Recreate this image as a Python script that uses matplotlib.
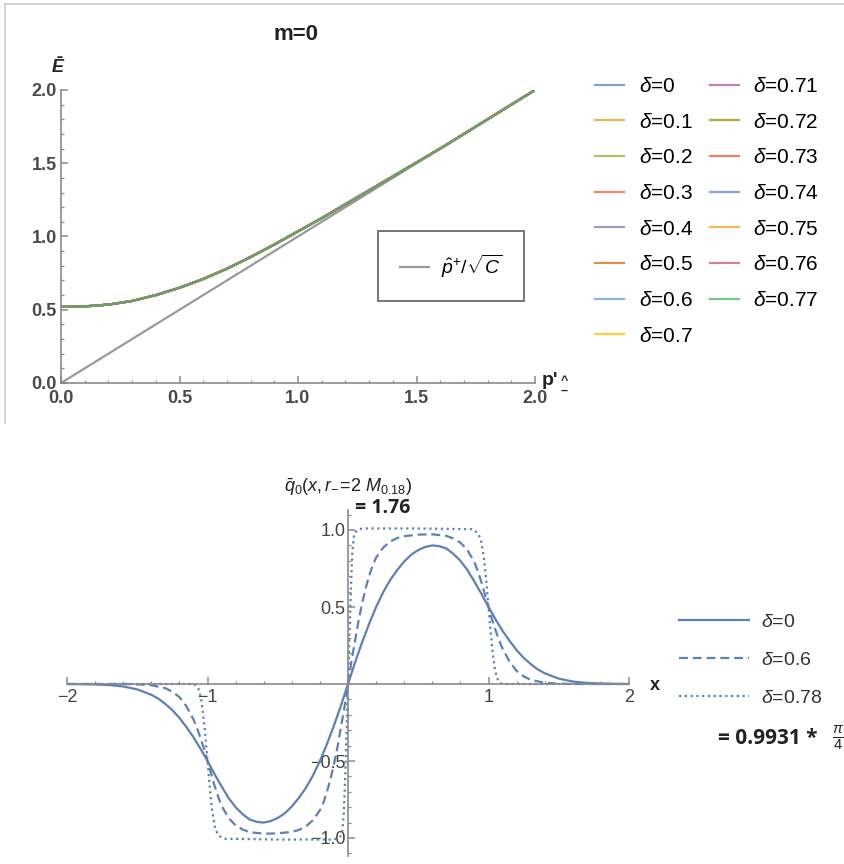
import numpy as np
import matplotlib
matplotlib.use('Agg')
import matplotlib.pyplot as plt
from matplotlib.lines import Line2D
from matplotlib.ticker import MultipleLocator, FixedLocator

plt.rcParams['font.family'] = ['Liberation Sans', 'DejaVu Sans']
plt.rcParams['mathtext.fontset'] = 'custom'
plt.rcParams['mathtext.rm'] = 'Liberation Sans'
plt.rcParams['mathtext.it'] = 'Liberation Sans:italic'
plt.rcParams['mathtext.bf'] = 'Liberation Sans:bold'

# ---- data, top panel (m=0) ----
deltas_top = ['0', '0.1', '0.2', '0.3', '0.4', '0.5', '0.6', '0.7',
              '0.71', '0.72', '0.73', '0.74', '0.75', '0.76', '0.77']
colors_top = ['#5E81B5', '#E19C24', '#8FB032', '#EB6235', '#8778B3', '#C56E1A',
              '#5D9EC7', '#FFBF00', '#A5609D', '#929600', '#E95536', '#6685D9',
              '#F89F13', '#BC5B80', '#47B66D']
p_vals = [0.0, 0.1, 0.2, 0.3, 0.4, 0.5, 0.6, 0.7, 0.8, 0.9, 1.0,
          1.1, 1.2, 1.3, 1.4, 1.5, 1.6, 1.7, 1.8, 1.9, 2.0]
E_vals = [0.52, 0.523, 0.535, 0.56, 0.60, 0.65, 0.71, 0.78, 0.86, 0.945, 1.035,
          1.125, 1.22, 1.315, 1.41, 1.505, 1.60, 1.70, 1.80, 1.90, 2.0]
line_p = [0.0, 2.0]   # p^+/sqrt(C) reference line

# ---- data, bottom panel (positive half, curve is odd in x) ----
x_d0 = [0.0, 0.05, 0.1, 0.15, 0.2, 0.25, 0.3, 0.35, 0.4, 0.45, 0.5, 0.55, 0.6,
        0.65, 0.7, 0.75, 0.8, 0.85, 0.9, 0.95, 1.0, 1.05, 1.1, 1.15, 1.2, 1.25,
        1.3, 1.35, 1.4, 1.5, 1.6, 1.7, 1.8, 1.9, 2.0]
q_d0 = [0.0, 0.14, 0.27, 0.39, 0.50, 0.595, 0.675, 0.74, 0.795, 0.84, 0.87, 0.89, 0.90,
        0.895, 0.88, 0.845, 0.80, 0.74, 0.665, 0.585, 0.50, 0.42, 0.345, 0.28, 0.22, 0.17,
        0.13, 0.095, 0.07, 0.035, 0.016, 0.007, 0.003, 0.001, 0.0]
x_d06 = [0.0, 0.025, 0.05, 0.075, 0.1, 0.125, 0.15, 0.175, 0.2, 0.25, 0.3, 0.35, 0.4,
         0.5, 0.6, 0.7, 0.75, 0.8, 0.85, 0.9, 0.925, 0.95, 0.975, 1.0, 1.025, 1.05,
         1.075, 1.1, 1.15, 1.2, 1.25, 1.3, 1.4, 1.5, 1.6, 2.0]
q_d06 = [0.0, 0.15, 0.28, 0.41, 0.52, 0.62, 0.70, 0.77, 0.82, 0.885, 0.925, 0.948, 0.96,
         0.97, 0.972, 0.962, 0.945, 0.918, 0.87, 0.79, 0.73, 0.66, 0.58, 0.50, 0.42, 0.35,
         0.285, 0.23, 0.145, 0.085, 0.05, 0.027, 0.008, 0.002, 0.0, 0.0]
x_d078 = [0.0, 0.01, 0.02, 0.03, 0.04, 0.05, 0.07, 0.1, 0.5, 0.88, 0.91, 0.93, 0.95,
          0.97, 0.985, 1.0, 1.015, 1.03, 1.045, 1.06, 1.08, 1.1, 2.0]
q_d078 = [0.0, 0.3, 0.6, 0.84, 0.95, 0.985, 1.0, 1.01, 1.01, 1.005, 0.99, 0.97, 0.92,
          0.80, 0.66, 0.5, 0.34, 0.20, 0.10, 0.04, 0.01, 0.0, 0.0]

W, H = 844, 864
fig = plt.figure(figsize=(W / 100, H / 100), dpi=100)


def fx(px):
    return px / W


def fy(py):
    return 1 - py / H


# light frame around the top panel
fig.add_artist(Line2D([fx(5), fx(5)], [fy(4), fy(423)], color='#cccccc', lw=1.2))
fig.add_artist(Line2D([fx(5), fx(844)], [fy(4), fy(4)], color='#cccccc', lw=1.2))

# ================= top panel =================
ax1 = fig.add_axes([fx(61), fy(383), (535 - 61) / W, (383 - 90) / H])
ax1.plot(line_p, line_p, color='#9a9a9a', lw=1.6, zorder=1)
handles = []
for d, c in zip(deltas_top, colors_top):
    h, = ax1.plot(p_vals, E_vals, color=c, lw=1.6, alpha=0.75, label=r'$\delta$=' + d,
                  zorder=2)
    handles.append(h)
ax1.set_xlim(0, 2.0)
ax1.set_ylim(0, 2.0)
for s in ['top', 'right']:
    ax1.spines[s].set_visible(False)
for s in ['left', 'bottom']:
    ax1.spines[s].set_color('#8a8a8a')
    ax1.spines[s].set_linewidth(1.2)
ax1.xaxis.set_major_locator(MultipleLocator(0.5))
ax1.xaxis.set_minor_locator(MultipleLocator(0.1))
ax1.yaxis.set_major_locator(MultipleLocator(0.5))
ax1.yaxis.set_minor_locator(MultipleLocator(0.1))
ax1.tick_params(which='both', direction='in', color='#8a8a8a', labelcolor='#4a4a4a',
                labelsize=13)
ax1.tick_params(which='major', length=5, width=1.1)
ax1.tick_params(which='minor', length=2.5, width=0.9)
ax1.tick_params(axis='y', pad=3)
ax1.tick_params(axis='x', pad=5)
for lab in ax1.get_xticklabels() + ax1.get_yticklabels():
    lab.set_fontweight('bold')

fig.text(fx(296), fy(34), 'm=0', ha='center', va='center', fontsize=16,
         fontweight='bold', color='#222222')
fig.text(fx(58), fy(68), '\u0112', ha='center', va='center', fontsize=13,
         fontweight='bold', fontstyle='italic', color='#222222')
fig.text(fx(542), fy(380), "p'", ha='left', va='center', fontsize=14,
         fontweight='bold', color='#222222')
fig.text(fx(561), fy(375), '^\n\u2013', ha='left', va='top', fontsize=9,
         fontweight='bold', linespacing=0.75, color='#222222')

gray_h = Line2D([], [], color='#9a9a9a', lw=1.6)
inner = ax1.legend([gray_h], [r'$\hat{p}^{+}/\sqrt{C}$'], loc='center',
                   bbox_to_anchor=(fx(451), fy(266)), bbox_transform=fig.transFigure,
                   fontsize=14, frameon=True, fancybox=False, borderpad=1.1,
                   handlelength=1.5, handletextpad=0.6)
inner.get_frame().set_edgecolor('#555555')
inner.get_frame().set_linewidth(1.4)

fig.legend(handles, [h.get_label() for h in handles], ncol=2, loc='upper left',
           bbox_to_anchor=(fx(595), fy(77)), frameon=False, fontsize=15,
           handlelength=1.4, handletextpad=0.7, columnspacing=0.8,
           labelspacing=0.8, borderpad=0, borderaxespad=0)

# ================= bottom panel =================
x_lo, x_hi = -2.0, 2.0
y_lo, y_hi = -1.12, 1.13
ax2 = fig.add_axes([fx(67), fy(684 + 1.12 * 154), (629 - 67) / W, 2.25 * 154 / H])
blue = '#5E81B5'


def odd(xs, ys):
    xs = np.asarray(xs)
    ys = np.asarray(ys)
    return np.concatenate([-xs[::-1], xs[1:]]), np.concatenate([-ys[::-1], ys[1:]])


xa, ya = odd(x_d0, q_d0)
xb, yb = odd(x_d06, q_d06)
xc, yc = odd(x_d078, q_d078)
l0, = ax2.plot(xa, ya, color=blue, lw=1.6)
l1, = ax2.plot(xb, yb, color=blue, lw=1.6, linestyle=(0, (4, 2.2)))
l2, = ax2.plot(xc, yc, color=blue, lw=1.6, linestyle=(0, (1, 1.6)))
ax2.set_xlim(x_lo, x_hi)
ax2.set_ylim(y_lo, y_hi)
for s in ['top', 'right']:
    ax2.spines[s].set_visible(False)
for s in ['left', 'bottom']:
    ax2.spines[s].set_position(('data', 0))
    ax2.spines[s].set_color('#8a8a8a')
    ax2.spines[s].set_linewidth(1.2)
ax2.xaxis.set_major_locator(FixedLocator([-2, -1, 1, 2]))
ax2.xaxis.set_minor_locator(MultipleLocator(0.2))
ax2.yaxis.set_major_locator(FixedLocator([-1.0, -0.5, 0.5, 1.0]))
ax2.yaxis.set_minor_locator(MultipleLocator(0.1))
ax2.set_yticklabels(['\u22121.0', '\u22120.5', '0.5', '1.0'])
ax2.set_xticklabels(['\u22122', '\u22121', '1', '2'])
ax2.tick_params(which='both', direction='in', color='#8a8a8a', labelcolor='#444444',
                labelsize=13)
ax2.tick_params(which='major', length=5, width=1.1)
ax2.tick_params(which='minor', length=2.5, width=0.9)
ax2.tick_params(axis='y', pad=2)

fig.text(fx(650), fy(685), 'x', ha='left', va='center', fontsize=13,
         fontweight='bold', color='#222222')
fig.text(fx(348), fy(487), r'$\bar{q}_0(x,r_{-}\!=\!2\ M_{0.18})$', ha='center',
         va='center', fontsize=13, color='#222222')
fig.text(fx(355), fy(508), '= 1.76', ha='left', va='center', fontsize=14,
         fontweight='bold', color='#222222', family=['Open Sans', 'DejaVu Sans'])
fig.text(fx(718), fy(738), '= 0.9931 *', ha='left', va='center', fontsize=15,
         fontweight='bold', color='#222222', family=['Open Sans', 'DejaVu Sans'])
fig.text(fx(832), fy(738), r'$\frac{\pi}{4}$', ha='left', va='center', fontsize=15,
         color='#222222')

fig.legend([l0, l1, l2], [r'$\delta$=0', r'$\delta$=0.6', r'$\delta$=0.78'],
           loc='upper left', bbox_to_anchor=(fx(679), fy(613)), frameon=False,
           fontsize=14, handlelength=3.6, handletextpad=0.6, labelspacing=1.05,
           borderpad=0, borderaxespad=0, labelcolor='#333333')

fig.savefig('out.png', dpi=100)
